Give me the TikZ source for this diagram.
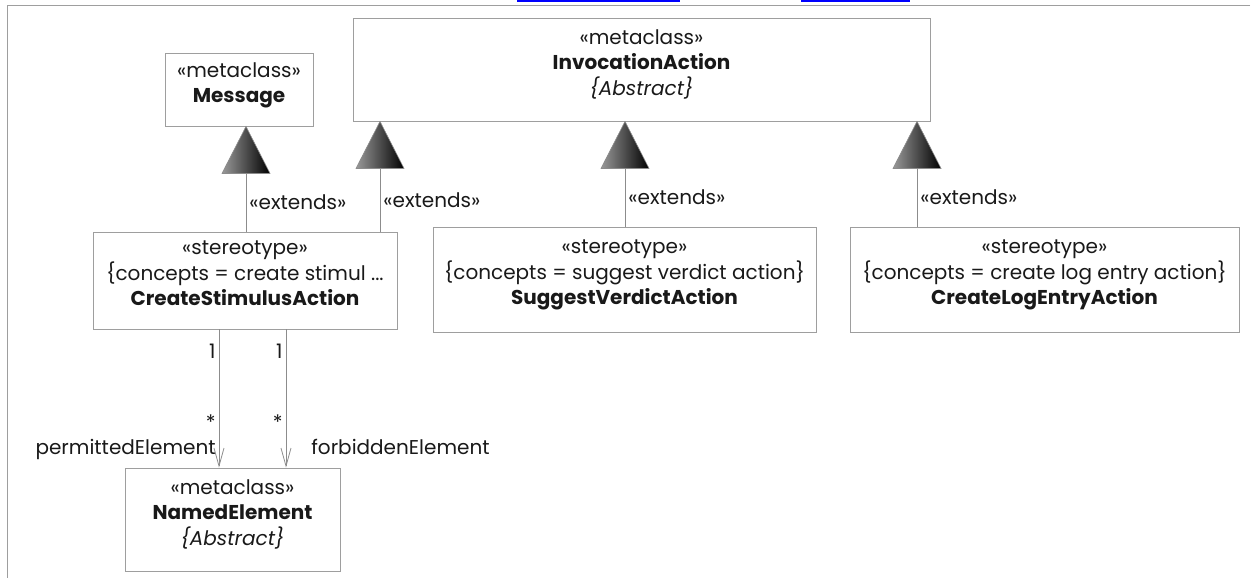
\documentclass[tikz,border=0pt]{standalone}
\usepackage{fontspec}
\setmainfont{Poppins}
\usetikzlibrary{arrows.meta,positioning}
\tikzset{>={Straight Barb[length=18pt,width=10pt]}}
\definecolor{umlline}{gray}{0.55}
\definecolor{umlframe}{gray}{0.62}
\definecolor{umltext}{gray}{0.1}
\tikzset{
  classbox/.style={draw=umlframe, line width=0.9pt, align=center, inner sep=0pt,
    text=umltext, font=\fontsize{20}{25.5}\selectfont, text depth=14pt},
  extline/.style={draw=umlline, line width=0.8pt},
  gentri/.style={draw=umlline, line width=0.6pt, left color=gray!80, right color=black},
  assoc/.style={draw=umlline, line width=0.8pt, ->},
  lbl/.style={text=umltext, font=\fontsize{20}{22}\selectfont, inner sep=3pt}
}

\begin{document}
\begin{tikzpicture}[x=1pt, y=-1pt]
    \useasboundingbox (0,0) rectangle (1253,578);
    \draw[umlframe] (1250,5) -- (7,5) -- (7,578);
    \draw[blue, line width=2pt] (517,1) -- (680,1) (801,1) -- (910,1);
    % classes
    \node[classbox, minimum width=148, minimum height=73] (msg) at (239,89.5)
      {«metaclass»\\\textbf{Message}};
    \node[classbox, minimum width=577, minimum height=103] (ia) at (641.5,69.5)
      {«metaclass»\\\textbf{InvocationAction}\\\textit{\{Abstract\}}};
    \node[classbox, minimum width=304, minimum height=97] (csa) at (245,280.5)
      {«stereotype»\\\{concepts = create stimul ...\\\textbf{CreateStimulusAction}};
    \node[classbox, minimum width=383, minimum height=105] (sva) at (624.5,279.5)
      {«stereotype»\\\{concepts = suggest verdict action\}\\\textbf{SuggestVerdictAction}};
    \node[classbox, minimum width=389, minimum height=105] (cle) at (1044.5,279.5)
      {«stereotype»\\\{concepts = create log entry action\}\\\textbf{CreateLogEntryAction}};
    \node[classbox, minimum width=215, minimum height=103] (ne) at (232.5,519.5)
      {«metaclass»\\\textbf{NamedElement}\\\textit{\{Abstract\}}};
    % extensions
    \foreach \x/\p/\c in {246/msg/csa, 380/ia/csa, 625/ia/sva, 917/ia/cle}
    {
    \coordinate (apex) at (\x,0 |- \p.south);
    \draw[extline] (apex) ++(0,47) -- (\x,0 |- \c.north) node[lbl, midway, right] {«extends»};
    \shade[gentri] (apex) -- ++(-24,47) -- ++(48,0) -- cycle;
    }
    % associations
    \draw[assoc] (219,0 |- csa.south) -- (219,0 |- ne.north)
      node[lbl, pos=0.16, left] {1} node[lbl, pos=0.67, left] {*}
      node[lbl, pos=0.87, left] {permittedElement};
    \draw[assoc] (286,0 |- csa.south) -- (286,0 |- ne.north)
      node[lbl, pos=0.16, left] {1} node[lbl, pos=0.67, left] {*}
      node[lbl, pos=0.85, right=22pt] {forbiddenElement};
\end{tikzpicture}
\end{document}
